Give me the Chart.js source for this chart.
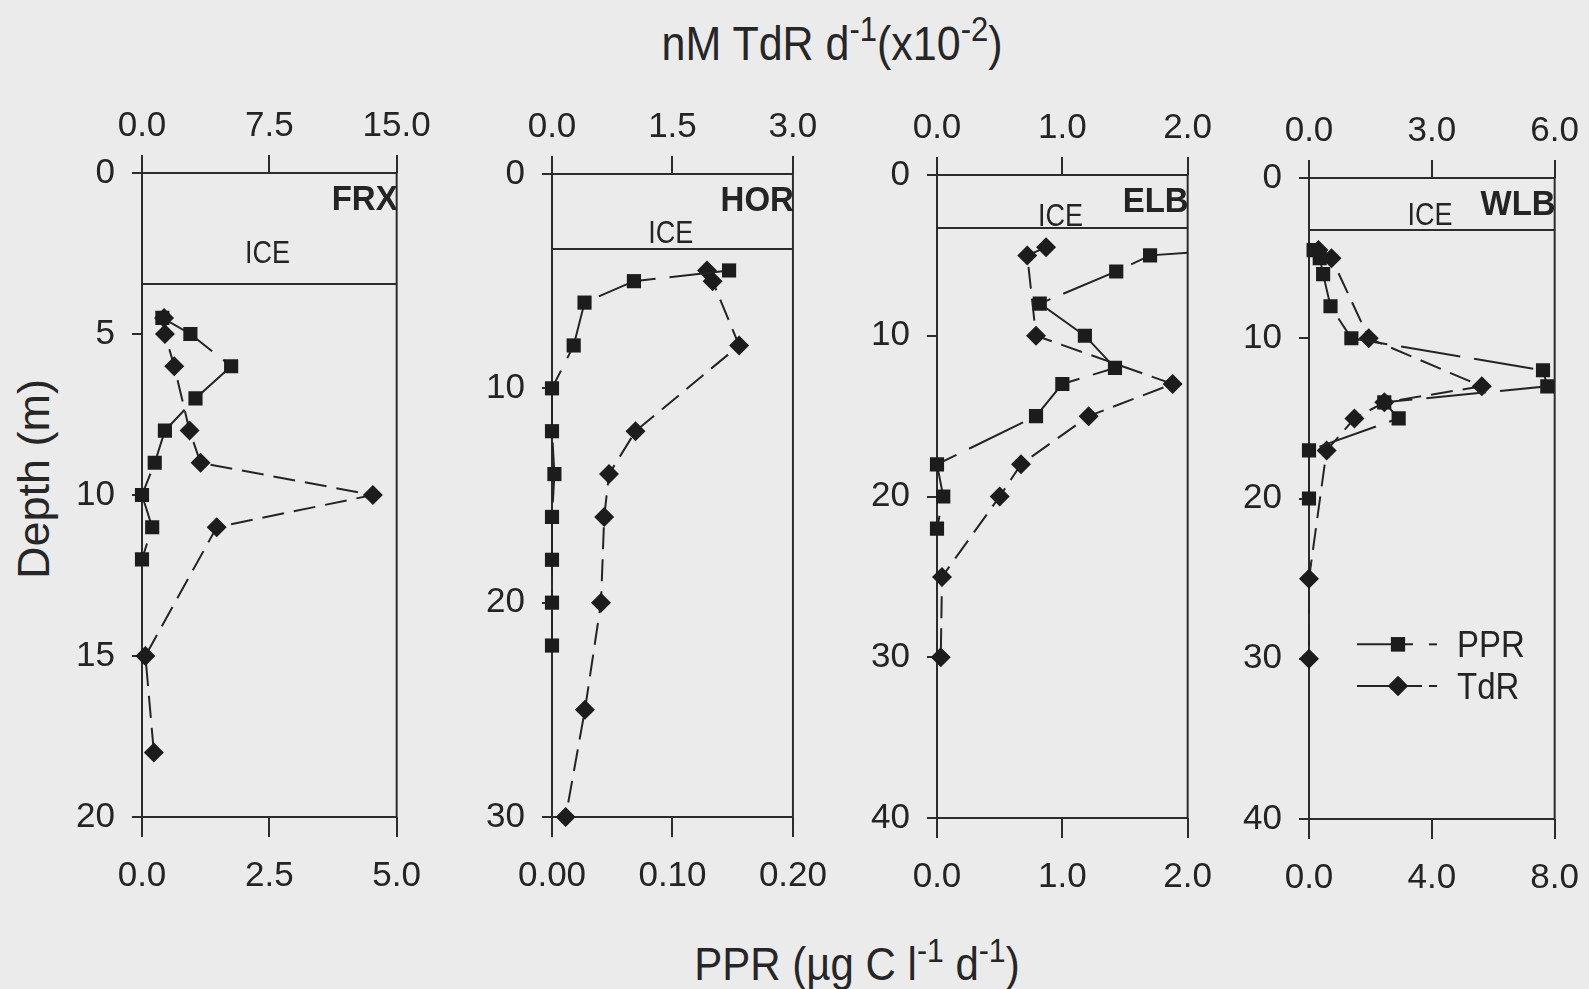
<!DOCTYPE html>
<html><head><meta charset="utf-8">
<script src="https://cdn.jsdelivr.net/npm/chart.js@4.4.1/dist/chart.umd.min.js"></script>
<style>
html,body{margin:0;padding:0;background:#ebebeb;width:1589px;height:989px;overflow:hidden;position:relative;}
canvas{position:absolute;}
.t{position:absolute;font-family:"Liberation Sans",Arial,sans-serif;color:#262626;white-space:nowrap;line-height:1;font-size:42px;}
.t sup{font-size:0.72em;position:relative;top:-0.55em;vertical-align:baseline;line-height:0;}
#topTitle{left:832px;top:22px;font-size:43px;transform:translateX(-50%) scale(1,1.12);}
#botTitle{left:857px;top:944px;transform:translateX(-50%) scale(1,1.08);}
#yTitle{left:33px;top:479px;font-size:45px;transform:translate(-50%,-50%) rotate(-90deg);}
</style></head><body>
<div class="t" id="topTitle">nM TdR d<sup>-1</sup>(x10<sup>-2</sup>)</div>
<div class="t" id="botTitle">PPR (µg C l<sup>-1</sup> d<sup>-1</sup>)</div>
<div class="t" id="yTitle">Depth (m)</div>
<canvas id="c0"></canvas><canvas id="c1"></canvas><canvas id="c2"></canvas><canvas id="c3"></canvas>
<script>
// ---------- data ----------
const stations = ['FRX', 'HOR', 'ELB', 'WLB'];
const seriesNames = ['PPR', 'TdR'];

// FRX
const frxPprDepth = [4.5, 5, 6, 7, 8, 9, 10, 11, 12];
const frxPpr      = [0.4, 0.95, 1.75, 1.05, 0.45, 0.25, 0, 0.2, 0];
const frxTdrDepth = [4.5, 5, 6, 8, 9, 10, 11, 15, 18];
const frxTdr      = [1.3, 1.35, 1.9, 2.8, 3.45, 13.6, 4.4, 0.2, 0.7];
// HOR
const horPprDepth = [4.5, 5, 6, 8, 10, 12, 14, 16, 18, 20, 22];
const horPpr      = [0.147, 0.068, 0.027, 0.018, 0, 0, 0.002, 0, 0, 0, 0];
const horTdrDepth = [4.5, 5, 8, 12, 14, 16, 20, 25, 30];
const horTdr      = [1.93, 2.0, 2.33, 1.04, 0.71, 0.65, 0.61, 0.41, 0.17];
// ELB
const elbPprDepth = [4.5, 5, 6, 8, 10, 12, 13, 15, 18, 20, 22];
const elbPpr      = [2.6, 1.7, 1.43, 0.82, 1.18, 1.42, 1.0, 0.79, 0, 0.05, 0];
const elbTdrDepth = [4.5, 5, 10, 13, 15, 18, 20, 25, 30];
const elbTdr      = [0.87, 0.72, 0.79, 1.88, 1.21, 0.67, 0.5, 0.04, 0.03];
// WLB
const wlbPprDepth = [4.5, 5, 6, 8, 10, 12, 13, 14, 15, 17, 20];
const wlbPpr      = [0.15, 0.35, 0.46, 0.7, 1.38, 7.62, 7.76, 2.45, 2.92, 0, 0];
const wlbTdrDepth = [4.5, 5, 10, 13, 14, 15, 17, 25, 30];
const wlbTdr      = [0.23, 0.55, 1.46, 4.22, 1.84, 1.11, 0.43, 0, 0];

// tick labels
const frxDepthTicks = [0, 5, 10, 15, 20];
const horDepthTicks = [0, 10, 20, 30];
const elbDepthTicks = [0, 10, 20, 30, 40];
const wlbDepthTicks = [0, 10, 20, 30, 40];
const frxPprTicks = [0, 2.5, 5];   const frxTdrTicks = [0, 7.5, 15];
const horPprTicks = [0, 0.1, 0.2]; const horTdrTicks = [0, 1.5, 3];
const elbPprTicks = [0, 1, 2];     const elbTdrTicks = [0, 1, 2];
const wlbPprTicks = [0, 4, 8];     const wlbTdrTicks = [0, 3, 6];
const pprDecimals = [1, 2, 1, 1];
const tdrDecimals = [1, 1, 1, 1];
// ice bottom depth (m)
const iceDepth = [3.45, 3.5, 3.3, 3.25];

// ---------- layout (pixels) ----------
const boxes = [
  {L: 142, R: 399, T: 173, B: 817, iceDy: 21},
  {L: 552, R: 805, T: 174, B: 817, iceDy: 6},
  {L: 937, R: 1190, T: 175, B: 818, iceDy: 2},
  {L: 1309, R: 1557, T: 178, B: 819, iceDy: 5}
];
const Y_W = 100, X_H = 80, PAD_R = 40;
const FONT = '"Liberation Sans", Arial, sans-serif';
const INK = '#242424';

const tables = [
  {pprD: frxPprDepth, ppr: frxPpr, tdrD: frxTdrDepth, tdr: frxTdr, dT: frxDepthTicks, pT: frxPprTicks, tT: frxTdrTicks},
  {pprD: horPprDepth, ppr: horPpr, tdrD: horTdrDepth, tdr: horTdr, dT: horDepthTicks, pT: horPprTicks, tT: horTdrTicks},
  {pprD: elbPprDepth, ppr: elbPpr, tdrD: elbTdrDepth, tdr: elbTdr, dT: elbDepthTicks, pT: elbPprTicks, tT: elbTdrTicks},
  {pprD: wlbPprDepth, ppr: wlbPpr, tdrD: wlbTdrDepth, tdr: wlbTdr, dT: wlbDepthTicks, pT: wlbPprTicks, tT: wlbTdrTicks}
];

const PPR_DASH = [60, 14];
const TDR_DASH = [22, 10];

function stretchedText(ctx, txt, x, y, sy) {
  ctx.save();
  ctx.translate(x, y);
  ctx.scale(1, sy);
  ctx.fillText(txt, 0, 0);
  ctx.restore();
}

const framePlugin = {
  id: 'frame',
  beforeDatasetsDraw(chart, args, o) {
    const {ctx, chartArea: a, scales} = chart;
    ctx.save();
    ctx.strokeStyle = '#2c2c2c';
    ctx.lineWidth = 2;
    ctx.strokeRect(a.left, a.top, a.right - a.left, a.bottom - a.top);
    const yi = scales.y.getPixelForValue(o.ice);
    ctx.beginPath(); ctx.moveTo(a.left, yi); ctx.lineTo(a.right, yi); ctx.stroke();
    ctx.fillStyle = INK;
    ctx.font = '27px ' + FONT;
    ctx.textAlign = 'center'; ctx.textBaseline = 'alphabetic';
    stretchedText(ctx, 'ICE', a.left + (a.right - a.left) * 0.493, yi - o.iceDy, 1.18);
    ctx.font = 'bold 33px ' + FONT;
    ctx.textAlign = 'right';
    stretchedText(ctx, o.name, a.right + 1, a.top + 37, 1.05);
    if (o.legend) {
      const x0 = a.left + 48, xm = a.left + 89, xt = a.left + 148;
      const rows = [{y: scales.y.getPixelForValue(29.1), end: a.left + 104, style: 'rect', label: seriesNames[0]},
                    {y: scales.y.getPixelForValue(31.7), end: a.left + 113, style: 'rectRot', label: seriesNames[1]}];
      ctx.strokeStyle = INK; ctx.lineWidth = 2;
      ctx.font = '33px ' + FONT; ctx.textAlign = 'left'; ctx.textBaseline = 'alphabetic';
      rows.forEach(r => {
        ctx.beginPath(); ctx.moveTo(x0, r.y); ctx.lineTo(r.end, r.y); ctx.stroke();
        ctx.beginPath(); ctx.moveTo(a.left + 120, r.y); ctx.lineTo(a.left + 128, r.y); ctx.stroke();
        ctx.fillStyle = '#1c1c1c';
        Chart.helpers.drawPoint(ctx, {pointStyle: r.style, radius: 10, rotation: 0, borderWidth: 0}, xm, r.y);
        ctx.fill();
        ctx.fillStyle = INK;
        stretchedText(ctx, r.label, xt, r.y + 13, 1.1);
      });
    }
    ctx.restore();
  }
};

function mkTicks(arr) { return s => { s.ticks = arr.map(v => ({value: v})); }; }

stations.forEach((name, i) => {
  const b = boxes[i], t = tables[i];
  const cv = document.getElementById('c' + i);
  const w = b.R - b.L, h = b.B - b.T;
  cv.width = Y_W + w + PAD_R; cv.height = X_H * 2 + h;
  cv.style.left = (b.L - Y_W) + 'px'; cv.style.top = (b.T - X_H) + 'px';
  const tickFont = {family: FONT, size: 35};
  const grid = len => ({display: true, drawOnChartArea: false, drawTicks: true, tickLength: len, color: '#2c2c2c', lineWidth: 2});
  new Chart(cv, {
    type: 'scatter',
    data: {
      datasets: [
        {label: seriesNames[0], xAxisID: 'xb', yAxisID: 'y', showLine: true,
         data: t.pprD.map((d, k) => ({x: t.ppr[k], y: d})),
         borderColor: INK, borderWidth: 2, borderDash: PPR_DASH,
         pointStyle: 'rect', pointRadius: 10, pointBackgroundColor: '#1c1c1c', pointBorderWidth: 0,
         clip: {left: 20, right: 0, top: 20, bottom: 20}},
        {label: seriesNames[1], xAxisID: 'xt', yAxisID: 'y', showLine: true,
         data: t.tdrD.map((d, k) => ({x: t.tdr[k], y: d})),
         borderColor: INK, borderWidth: 2, borderDash: TDR_DASH,
         pointStyle: 'rectRot', pointRadius: 10, pointBackgroundColor: '#1c1c1c', pointBorderWidth: 0,
         clip: {left: 20, right: 0, top: 20, bottom: 20}}
      ]
    },
    options: {
      responsive: false, animation: false, events: [], devicePixelRatio: 1,
      layout: {padding: {left: 0, right: PAD_R, top: 0, bottom: 0}},
      plugins: {legend: {display: false}, tooltip: {enabled: false},
                frame: {ice: iceDepth[i], iceDy: b.iceDy, name: name, legend: i === 3}},
      scales: {
        y: {type: 'linear', position: 'left', reverse: true, min: t.dT[0], max: t.dT[t.dT.length - 1],
            afterBuildTicks: mkTicks(t.dT), afterFit: s => { s.width = Y_W; },
            grid: grid(10), border: {display: false},
            ticks: {font: tickFont, color: INK, padding: 17, autoSkip: false, callback: v => String(v)}},
        xb: {type: 'linear', position: 'bottom', min: t.pT[0], max: t.pT[t.pT.length - 1],
             afterBuildTicks: mkTicks(t.pT), afterFit: s => { s.height = X_H; },
             grid: grid(20), border: {display: false},
             ticks: {font: tickFont, color: INK, padding: 18, autoSkip: false, maxRotation: 0, minRotation: 0,
                     callback: v => Number(v).toFixed(pprDecimals[i])}},
        xt: {type: 'linear', position: 'top', min: t.tT[0], max: t.tT[t.tT.length - 1],
             afterBuildTicks: mkTicks(t.tT), afterFit: s => { s.height = X_H; },
             grid: grid(18), border: {display: false},
             ticks: {font: tickFont, color: INK, padding: 8, autoSkip: false, maxRotation: 0, minRotation: 0,
                     callback: v => Number(v).toFixed(tdrDecimals[i])}}
      }
    },
    plugins: [framePlugin]
  });
});
</script>
</body></html>
